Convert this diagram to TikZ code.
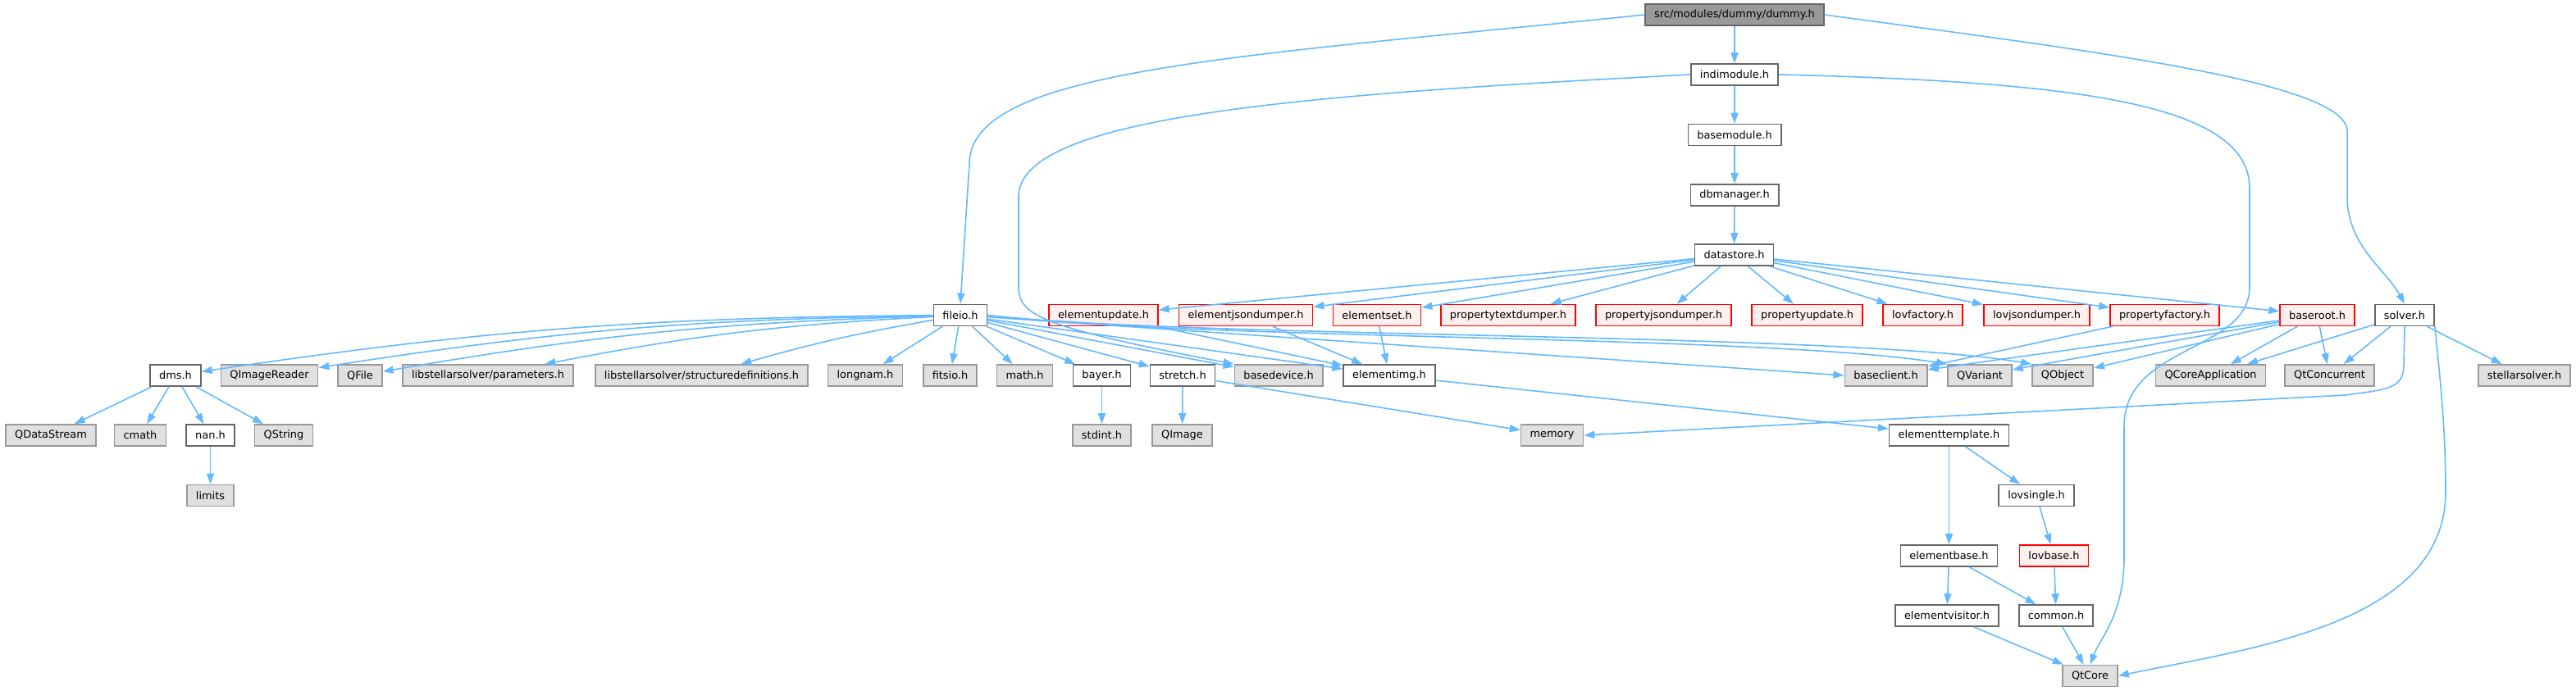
\documentclass[tikz,border=0pt]{standalone}
\usepackage{fontspec}
\setmainfont{DejaVu Sans}
\usepackage{tikz}
\usetikzlibrary{arrows.meta}
\definecolor{edgeblue}{HTML}{63B8FF}
\definecolor{rootgray}{HTML}{999999}
\definecolor{sysgray}{HTML}{E0E0E0}
\definecolor{lightred}{HTML}{FFF0F0}
\definecolor{borderdark}{HTML}{666666}
\tikzset{
	filebox/.style={rectangle, draw=borderdark, fill=white, line width=0.45pt, inner xsep=1.1mm, inner ysep=0pt, minimum height=2.6mm, font=\fontsize{3.67}{4.4}\selectfont},
	rootbox/.style={filebox, fill=rootgray, draw=borderdark},
	sysbox/.style={filebox, fill=sysgray, draw=rootgray},
	redbox/.style={filebox, fill=lightred, draw=red},
	incl/.style={edgeblue, line width=0.45pt, -{Triangle[length=1.3mm, width=0.9mm]}}
}

\begin{document}
\begin{tikzpicture}
		\useasboundingbox (0,0) rectangle (31.41,-8.43);
		
		% Cadena principal
		\node [rootbox] (dummy) at (21.15,-0.18) {src/modules/dummy/dummy.h};
		\node [filebox] (indimodule) at (21.15,-0.91) {indimodule.h};
		\node [filebox] (basemodule) at (21.15,-1.645) {basemodule.h};
		\node [filebox] (dbmanager) at (21.15,-2.38) {dbmanager.h};
		\node [filebox] (datastore) at (21.145,-3.11) {datastore.h};
		
		% Fila 5
		\node [filebox] (fileio) at (11.71,-3.845) {fileio.h};
		\node [redbox] (elementupdate) at (13.455,-3.845) {elementupdate.h};
		\node [redbox] (elementjsondumper) at (15.19,-3.845) {elementjsondumper.h};
		\node [redbox] (elementset) at (16.79,-3.845) {elementset.h};
		\node [redbox] (propertytextdumper) at (18.39,-3.845) {propertytextdumper.h};
		\node [redbox] (propertyjsondumper) at (20.285,-3.845) {propertyjsondumper.h};
		\node [redbox] (propertyupdate) at (22.035,-3.845) {propertyupdate.h};
		\node [redbox] (lovfactory) at (23.445,-3.845) {lovfactory.h};
		\node [redbox] (lovjsondumper) at (24.835,-3.845) {lovjsondumper.h};
		\node [redbox] (propertyfactory) at (26.395,-3.845) {propertyfactory.h};
		\node [redbox] (baseroot) at (28.255,-3.845) {baseroot.h};
		\node [filebox] (solver) at (29.32,-3.845) {solver.h};
		
		% Fila 6
		\node [filebox] (dms) at (2.14,-4.58) {dms.h};
		\node [sysbox] (qimagereader) at (3.285,-4.58) {QImageReader};
		\node [sysbox] (qfile) at (4.39,-4.58) {QFile};
		\node [sysbox] (parameters) at (5.95,-4.58) {libstellarsolver/parameters.h};
		\node [sysbox] (structdefs) at (8.555,-4.58) {libstellarsolver/structuredefinitions.h};
		\node [sysbox] (longnam) at (10.55,-4.58) {longnam.h};
		\node [sysbox] (fitsio) at (11.585,-4.58) {fitsio.h};
		\node [sysbox] (mathh) at (12.495,-4.58) {math.h};
		\node [filebox] (bayer) at (13.435,-4.58) {bayer.h};
		\node [filebox] (stretch) at (14.42,-4.58) {stretch.h};
		\node [sysbox] (basedevice) at (15.59,-4.58) {basedevice.h};
		\node [filebox] (elementimg) at (16.94,-4.58) {elementimg.h};
		\node [sysbox] (baseclient) at (22.995,-4.58) {baseclient.h};
		\node [sysbox] (qvariant) at (24.14,-4.58) {QVariant};
		\node [sysbox] (qobject) at (25.15,-4.58) {QObject};
		\node [sysbox] (qcoreapp) at (26.955,-4.58) {QCoreApplication};
		\node [sysbox] (qtconcurrent) at (28.405,-4.58) {QtConcurrent};
		\node [sysbox] (stellarsolver) at (30.78,-4.58) {stellarsolver.h};
		
		% Fila 7
		\node [sysbox] (qdatastream) at (0.62,-5.31) {QDataStream};
		\node [sysbox] (cmath) at (1.71,-5.31) {cmath};
		\node [filebox] (nan) at (2.565,-5.31) {nan.h};
		\node [sysbox] (qstring) at (3.46,-5.31) {QString};
		\node [sysbox] (stdint) at (13.435,-5.31) {stdint.h};
		\node [sysbox] (qimage) at (14.415,-5.31) {QImage};
		\node [sysbox] (memory) at (18.925,-5.31) {memory};
		\node [filebox] (elementtemplate) at (23.765,-5.31) {elementtemplate.h};
		
		% Filas 8 a 11
		\node [sysbox] (limits) at (2.565,-6.045) {limits};
		\node [filebox] (lovsingle) at (24.83,-6.045) {lovsingle.h};
		\node [filebox] (elementbase) at (23.765,-6.78) {elementbase.h};
		\node [redbox] (lovbase) at (25.045,-6.78) {lovbase.h};
		\node [filebox] (elementvisitor) at (23.74,-7.51) {elementvisitor.h};
		\node [filebox] (common) at (25.07,-7.51) {common.h};
		\node [sysbox] (qtcore) at (25.485,-8.245) {QtCore};
		
		% Aristas desde dummy.h e indimodule.h
		\draw [incl] (dummy) -- (indimodule);
		\draw [incl] (dummy.west) .. controls (15.0,-0.7) and (11.82,-0.85) .. (11.82,-2.0) -- (fileio.north);
		\draw [incl] (dummy.east) .. controls (25.5,-0.62) and (28.62,-1.0) .. (28.62,-1.6) -- (28.62,-2.4) .. controls (28.62,-3.0) and (29.1,-3.3) .. (solver.north);
		\draw [incl] (indimodule) -- (basemodule);
		\draw [incl] (indimodule.west) .. controls (16.0,-1.15) and (12.42,-1.4) .. (12.42,-2.4) -- (12.42,-3.5) .. controls (12.42,-3.85) and (12.7,-3.99) .. (basedevice.north west);
		\draw [incl] (indimodule.east) .. controls (25.5,-1.0) and (27.43,-1.3) .. (27.43,-2.3) -- (27.43,-3.5) .. controls (27.43,-4.3) and (25.9,-4.2) .. (25.9,-5.2) -- (25.9,-6.8) .. controls (25.9,-7.5) and (25.6,-7.8) .. (qtcore.north);
		\draw [incl] (basemodule) -- (dbmanager);
		\draw [incl] (dbmanager) -- (datastore);
		
		% Aristas desde datastore.h
		\draw [incl] (datastore) -- (elementupdate);
		\draw [incl] (datastore) -- (elementjsondumper);
		\draw [incl] (datastore) -- (elementset);
		\draw [incl] (datastore) -- (propertytextdumper);
		\draw [incl] (datastore) -- (propertyjsondumper);
		\draw [incl] (datastore) -- (propertyupdate);
		\draw [incl] (datastore) -- (lovfactory);
		\draw [incl] (datastore) -- (lovjsondumper);
		\draw [incl] (datastore) -- (propertyfactory);
		\draw [incl] (datastore) -- (baseroot);
		\draw [incl] (elementupdate) -- (elementimg);
		\draw [incl] (elementjsondumper) -- (elementimg);
		\draw [incl] (elementset) -- (elementimg);
		\draw [incl] (propertyfactory) -- (baseclient);
		
		% Aristas desde fileio.h
		\draw [incl] (fileio) to [bend right=4] (dms);
		\draw [incl] (fileio) to [bend right=4] (qimagereader);
		\draw [incl] (fileio) to [bend right=4] (qfile);
		\draw [incl] (fileio) to [bend right=4] (parameters);
		\draw [incl] (fileio) to [bend right=3] (structdefs);
		\draw [incl] (fileio) -- (longnam);
		\draw [incl] (fileio) -- (fitsio);
		\draw [incl] (fileio) -- (mathh);
		\draw [incl] (fileio) -- (bayer);
		\draw [incl] (fileio) -- (stretch);
		\draw [incl] (fileio) -- (basedevice);
		\draw [incl] (fileio) -- (elementimg);
		\draw [incl] (fileio) -- (baseclient.west);
		\draw [incl] (fileio.east) .. controls (14.5,-4.15) and (21.5,-4.08) .. (qvariant.north west);
		\draw [incl] (fileio.east) .. controls (14.5,-4.13) and (22.5,-4.05) .. (qobject.north west);
		
		% Aristas desde baseroot.h y solver.h
		\draw [incl] (baseroot) -- (baseclient);
		\draw [incl] (baseroot) -- (qvariant);
		\draw [incl] (baseroot) -- (qobject);
		\draw [incl] (baseroot) -- (qcoreapp);
		\draw [incl] (baseroot) -- (qtconcurrent);
		\draw [incl] (solver) -- (qcoreapp);
		\draw [incl] (solver) -- (qtconcurrent);
		\draw [incl] (solver) -- (stellarsolver);
		\draw [incl] (solver.south) -- (29.31,-4.45) .. controls (29.31,-4.75) and (29.1,-4.75) .. (28.6,-4.82) -- (memory.east);
		\draw [incl] (solver.south east) .. controls (29.75,-4.6) and (29.82,-5.2) .. (29.82,-6.0) .. controls (29.82,-7.6) and (27.5,-7.9) .. (qtcore.east);
		
		% Resto de dependencias
		\draw [incl] (dms) -- (qdatastream);
		\draw [incl] (dms) -- (cmath);
		\draw [incl] (dms) -- (nan);
		\draw [incl] (dms) -- (qstring);
		\draw [incl] (nan) -- (limits);
		\draw [incl] (bayer) -- (stdint);
		\draw [incl] (stretch) -- (qimage);
		\draw [incl] (stretch) -- (memory);
		\draw [incl] (elementimg) -- (elementtemplate);
		\draw [incl] (elementtemplate) -- (elementbase);
		\draw [incl] (elementtemplate) -- (lovsingle);
		\draw [incl] (lovsingle) -- (lovbase);
		\draw [incl] (lovbase) -- (common);
		\draw [incl] (elementbase) -- (elementvisitor);
		\draw [incl] (elementbase) -- (common);
		\draw [incl] (elementvisitor) -- (qtcore);
		\draw [incl] (common) -- (qtcore);
	\end{tikzpicture}
\end{document}
